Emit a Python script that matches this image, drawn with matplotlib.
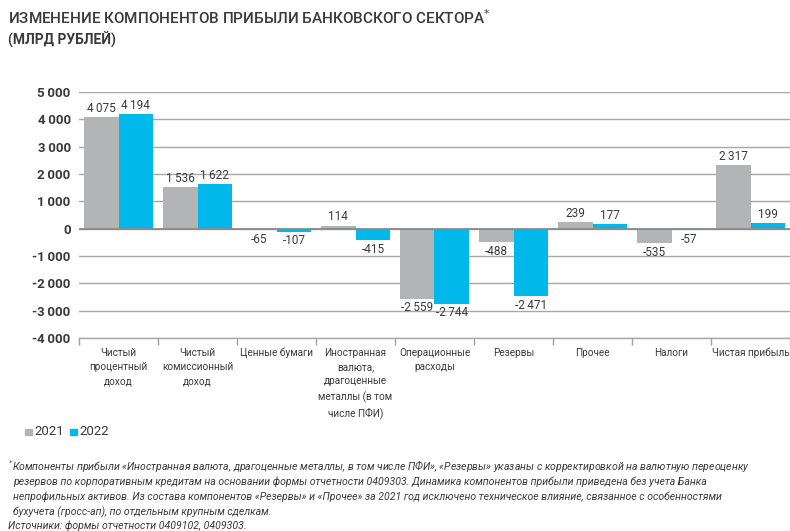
import numpy as np
import matplotlib.pyplot as plt

plt.rcParams['font.family'] = ['Roboto', 'DejaVu Sans']

categories = [
    'Чистый\nпроцентный\nдоход',
    'Чистый\nкомиссионный\nдоход',
    'Ценные бумаги',
    'Иностранная\nвалюта,\nдрагоценные\nметаллы (в том\nчисле ПФИ)',
    'Операционные\nрасходы',
    'Резервы',
    'Прочее',
    'Налоги',
    'Чистая прибыль',
]
values_2021 = [4075, 1536, -65, 114, -2559, -488, 239, -535, 2317]
values_2022 = [4194, 1622, -107, -415, -2744, -2471, 177, -57, 199]
yticks = np.arange(-4000, 5001, 1000)

gray = '#b3b4b6'
blue = '#00b8ea'
text_color = '#3a3a3a'

fig = plt.figure(figsize=(7.9, 5.31), dpi=100)
ax = fig.add_axes([0.1, 0.3635, 0.9, 0.4632])

x = np.arange(len(categories))
w = 0.44
ax.bar(x - w / 2, values_2021, width=w, color=gray, zorder=3)
ax.bar(x + w / 2, values_2022, width=w, color=blue, zorder=3)


def fmt(v):
    return f'{v:,}'.replace(',', '\u2009')


for xs, vals in ((x - w / 2, values_2021), (x + w / 2, values_2022)):
    for xi, v in zip(xs, vals):
        off = 80 if v >= 0 else -100
        ax.text(xi, v + off, fmt(v), ha='center', va='bottom' if v >= 0 else 'top',
                fontsize=8.5, color=text_color, zorder=4)

ax.set_xlim(-0.5, len(categories) - 0.5)
ax.set_ylim(-4000, 5000)
ax.set_yticks(yticks)
ax.set_yticklabels([fmt(t) if t >= 0 else '-' + fmt(-t) for t in yticks],
                   fontsize=9.5, fontweight='bold', color=text_color)
ax.yaxis.grid(True, color='#a8a8a8', linewidth=1.0, zorder=0)
ax.axhline(0, color='#8a8a8a', linewidth=1.3, zorder=4)
ax.tick_params(axis='y', length=0, pad=6)

ax.set_xticks(np.arange(-0.5, len(categories), 1.0))
ax.set_xticklabels([])
ax.tick_params(axis='x', length=5, color='#a0a0a0', width=1.0)
for xi, lab in zip(x, categories):
    ax.text(xi, -4350, lab, ha='center', va='top', fontsize=7.2,
            color=text_color, linespacing=1.55)

for s in ['top', 'right', 'left']:
    ax.spines[s].set_visible(False)
ax.spines['bottom'].set_color('#a8a8a8')
ax.spines['bottom'].set_linewidth(1.0)

fig.text(0.01, 0.966, 'ИЗМЕНЕНИЕ КОМПОНЕНТОВ ПРИБЫЛИ БАНКОВСКОГО СЕКТОРА$^{*}$',
         fontsize=11, fontweight='medium', color=text_color, va='center')
fig.text(0.01, 0.925, '(МЛРД РУБЛЕЙ)', fontsize=10, fontweight='bold',
         color=text_color, va='center')

# legend
fig.patches.append(plt.Rectangle((0.032, 0.180), 0.0085, 0.013, color=gray,
                                 transform=fig.transFigure, figure=fig))
fig.text(0.044, 0.187, '2021', fontsize=9.5, color=text_color, va='center')
fig.patches.append(plt.Rectangle((0.089, 0.180), 0.0085, 0.013, color=blue,
                                 transform=fig.transFigure, figure=fig))
fig.text(0.101, 0.187, '2022', fontsize=9.5, color=text_color, va='center')

notes = [
    (0.01, '$^{*}$Компоненты прибыли «Иностранная валюта, драгоценные металлы, в том числе ПФИ», '
           '«Резервы» указаны с корректировкой на валютную переоценку'),
    (0.017, 'резервов по корпоративным кредитам на основании формы отчетности 0409303. '
            'Динамика компонентов прибыли приведена без учета Банка'),
    (0.017, 'непрофильных активов. Из состава компонентов «Резервы» и «Прочее» за 2021 год '
            'исключено техническое влияние, связанное с особенностями'),
    (0.017, 'бухучета (гросс-ап), по отдельным крупным сделкам.'),
    (0.01, 'Источники: формы отчетности 0409102, 0409303.'),
]
ys = [0.122, 0.093, 0.064, 0.036, 0.010]
for (xp, line), yp in zip(notes, ys):
    fig.text(xp, yp, line, fontsize=7.6, style='italic', color=text_color, va='center')

plt.savefig('out.png', dpi=100)
